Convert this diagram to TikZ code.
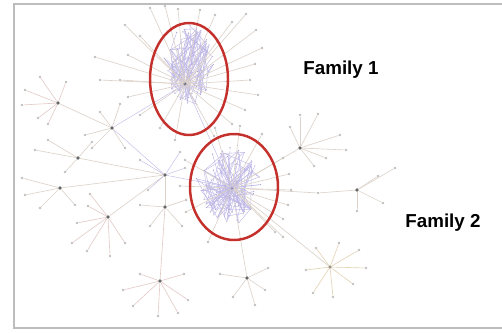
\documentclass[tikz,border=0pt]{standalone}
\usepackage{fontspec}
\newfontfamily\labelfont{Liberation Sans}

\definecolor{famred}{HTML}{C4302B}
\definecolor{spoke}{HTML}{DCD2C9}
\definecolor{rose}{HTML}{E3CBC8}
\definecolor{sand}{HTML}{E2D4B4}
\definecolor{lilac}{HTML}{BDB6E6}
\definecolor{frame}{HTML}{BDBDBD}

\begin{document}
\begin{tikzpicture}[x=0.03cm, y=-0.03cm,
    hub/.style={circle, fill=black!60, inner sep=0pt, minimum size=3.2pt},
    leaf/.style={circle, fill=black!25, inner sep=0pt, minimum size=2.2pt},
    blob/.style={circle, fill=lilac!90!black, inner sep=0pt, minimum size=1.2pt},
    link/.style={draw=spoke, line width=0.55pt},
    plink/.style={draw=lilac, line width=0.35pt},
    famring/.style={draw=famred, line width=2.1pt},
    famlabel/.style={font=\labelfont\bfseries\fontsize{16}{18}\selectfont}]
    \useasboundingbox (0,0) rectangle (502,332);
    \draw[frame, line width=1.6pt] (502,4) -- (14,4) -- (14,328) -- (502,328);

    % hubs
    \node[hub] (fam1) at (185,84) {};
    \node[hub] (fam2) at (232,188) {};
    \node[hub] (west) at (58,103) {};
    \node[hub] (nw) at (112,128) {};
    \node[hub] (m1) at (78,158) {};
    \node[hub] (m2) at (60,188) {};
    \node[hub] (junc) at (165,175) {};
    \node[hub] (junc2) at (165,207) {};
    \node[hub] (sw) at (108,217) {};
    \node[hub] (south) at (160,281) {};
    \node[hub] (east) at (300,148) {};
    \node[leaf] (farmid) at (318,193) {};
    \node[hub] (far) at (357,190) {};
    \node[hub, fill=sand!70!black] (fan) at (330,267) {};
    \node[hub] (low) at (247,278) {};

    % backbone
    \draw[link] (west) -- (nw);
    \draw[plink] (nw) -- (junc);
    \draw[plink] (nw) -- (fam1);
    \draw[link] (m1) -- (junc);
    \draw[link] (m2) -- (junc);
    \draw[link] (sw) -- (junc);
    \draw[plink] (junc) -- (fam2);
    \draw[plink] (fam1) -- (fam2);
    \draw[link] (junc) -- (junc2);
    \draw[draw=rose, line width=0.55pt] (junc2) -- (south);
    \draw[link] (fam2) -- (east);
    \draw[link] (fam2) -- (farmid);
    \draw[link] (farmid) -- (far);
    \draw[link] (fam2) -- (fan);
    \draw[link] (fam2) -- (low);

    % dense families
    \pgfmathsetseed{21}
    \foreach \i in {1,...,90} {
        \pgfmathsetmacro\rr{sqrt(rnd)}
        \pgfmathsetmacro\ang{360*rnd}
        \pgfmathsetmacro\px{190+26*\rr*cos(\ang)}
        \pgfmathsetmacro\py{66+42*\rr*sin(\ang)}
        \node[blob] (a\i) at (\px,\py) {};
        \pgfmathsetmacro\px{230+34*\rr*cos(\ang)}
        \pgfmathsetmacro\py{186+40*\rr*sin(\ang)}
        \node[blob] (b\i) at (\px,\py) {};
    }
    \foreach \i in {2,...,90} {
        \pgfmathtruncatemacro\j{1+floor(rnd*(\i-1))}
        \draw[plink] (a\i) -- (a\j);
        \pgfmathtruncatemacro\j{1+floor(rnd*(\i-1))}
        \draw[plink] (b\i) -- (b\j);
    }
    \foreach \i in {1,4,...,90} {
        \draw[plink] (fam1) -- (a\i);
        \draw[plink] (fam2) -- (b\i);
    }

    % leaves
    \foreach \x/\y [count=\i] in {150/8, 165/6, 178/9, 200/10, 215/15, 232/22, 246/14,
            256/30, 262/48, 255/64, 250/80, 258/95, 245/110, 232/124, 214/136,
            175/140, 160/128, 140/115, 128/97, 120/80, 100/80, 95/57, 128/55,
            125/25, 140/36} {
        \node[leaf] (f1\i) at (\x,\y) {};
        \draw[link] (fam1) -- (f1\i);
    }
    \foreach \x/\y [count=\i] in {215/128, 240/126, 262/134, 283/158, 289/174, 291/190,
            288/205, 283/219, 275/232, 185/160, 180/186, 186/212, 208/242, 283/237} {
        \node[leaf] (f2\i) at (\x,\y) {};
        \draw[link] (fam2) -- (f2\i);
    }
    \foreach \x/\y [count=\i] in {40/77, 66/82, 25/90, 22/105, 38/118, 48/124} {
        \node[leaf] (w\i) at (\x,\y) {};
        \draw[draw=rose, line width=0.55pt] (west) -- (w\i);
    }
    \foreach \x/\y [count=\i] in {85/135, 92/148, 125/148, 100/112, 120/104} {
        \node[leaf] (n\i) at (\x,\y) {};
        \draw[link] (nw) -- (n\i);
    }
    \foreach \x/\y [count=\i] in {35/150, 48/140, 65/172, 92/142} {
        \node[leaf] (ma\i) at (\x,\y) {};
        \draw[link] (m1) -- (ma\i);
    }
    \foreach \x/\y [count=\i] in {25/195, 22/178, 40/208, 75/205} {
        \node[leaf] (mb\i) at (\x,\y) {};
        \draw[link] (m2) -- (mb\i);
    }
    \foreach \x/\y [count=\i] in {140/160, 148/190, 185/168, 180/152} {
        \node[leaf] (j\i) at (\x,\y) {};
        \draw[plink] (junc) -- (j\i);
    }
    \foreach \x/\y [count=\i] in {140/205, 186/200, 150/226, 182/226} {
        \node[leaf] (k\i) at (\x,\y) {};
        \draw[link] (junc2) -- (k\i);
    }
    \foreach \x/\y [count=\i] in {77/223, 72/243, 87/251, 110/256, 125/243, 88/206, 90/194} {
        \node[leaf] (s\i) at (\x,\y) {};
        \draw[draw=rose, line width=0.55pt] (sw) -- (s\i);
    }
    \foreach \x/\y [count=\i] in {140/274, 123/290, 133/306, 158/316, 178/313, 188/300,
            184/274} {
        \node[leaf] (so\i) at (\x,\y) {};
        \draw[draw=rose, line width=0.55pt] (south) -- (so\i);
    }
    \foreach \x/\y [count=\i] in {300/115, 318/114, 290/127, 340/135, 346/150, 326/158,
            314/166} {
        \node[leaf] (e\i) at (\x,\y) {};
        \draw[link] (east) -- (e\i);
    }
    \foreach \x/\y [count=\i] in {378/176, 383/203, 357/211, 395/168} {
        \node[leaf] (r\i) at (\x,\y) {};
        \draw[link] (far) -- (r\i);
    }
    \foreach \x/\y [count=\i] in {316/248, 339/243, 359/250, 366/268, 353/284, 333/297,
            313/293, 306/270} {
        \node[leaf] (t\i) at (\x,\y) {};
        \draw[draw=sand, line width=0.55pt] (fan) -- (t\i);
    }
    \foreach \x/\y [count=\i] in {220/274, 233/297, 255/305, 268/268, 265/290} {
        \node[leaf] (l\i) at (\x,\y) {};
        \draw[link] (low) -- (l\i);
    }

    % families
    \draw[famring] (189,79) ellipse [x radius=39, y radius=56];
    \draw[famring] (234,187) ellipse [x radius=44, y radius=53];
    \node[famlabel] (lab1) at (341,70) {Family 1};
    \node[famlabel] (lab2) at (443,223) {Family 2};
\end{tikzpicture}
\end{document}
